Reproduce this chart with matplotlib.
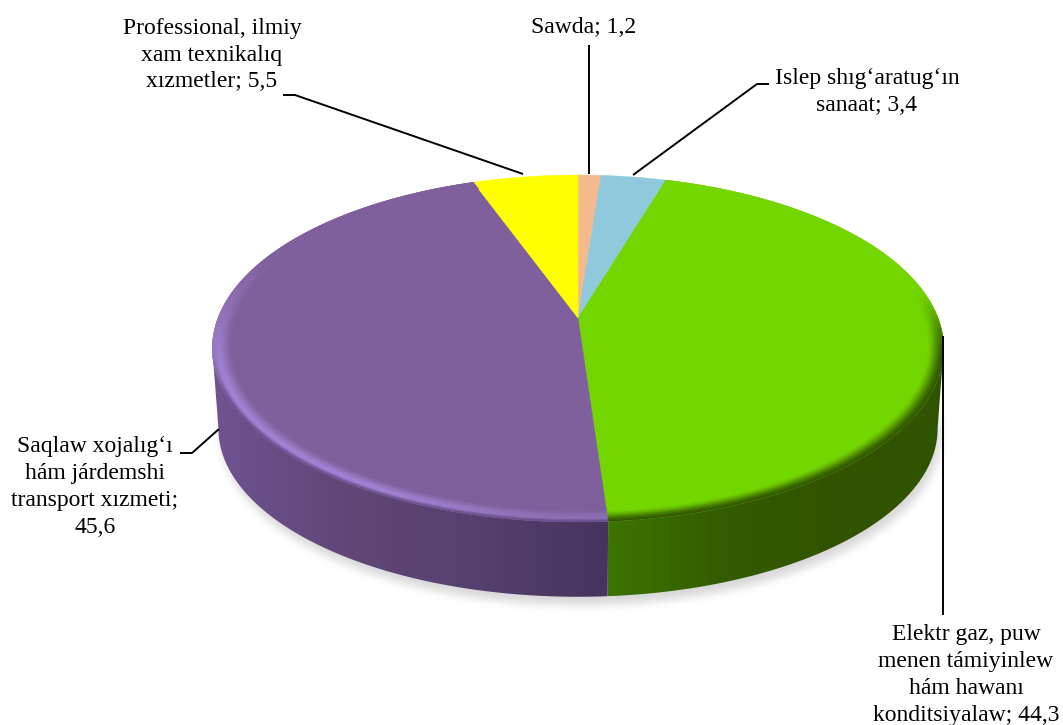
import numpy as np
import matplotlib
matplotlib.use("Agg")
import matplotlib.pyplot as plt
from matplotlib.path import Path
from matplotlib.patches import Polygon
from matplotlib.collections import PolyCollection

# ---- data ----
labels = ["Sawda; 1,2",
          "Islep shıg‘aratug‘ın\nsanaat; 3,4",
          "Elektr gaz, puw\nmenen támiyinlew\nhám hawanı\nkonditsiyalaw; 44,3",
          "Saqlaw xojalıg‘ı\nhám járdemshi\ntransport xızmeti;\n45,6",
          "Professional, ilmiy\nxam texnikalıq\nxızmetler; 5,5"]
values = [1.2, 3.4, 44.3, 45.6, 5.5]
face_colors = ["#F5B98C", "#8FC9DB", "#74D600", "#7F609C", "#FFFF00"]

# ---- layout / style ----
W, H = 1063, 725
CX, K = 578.0, 0.1758
TOP = dict(y0=318.0, a=168.1, b=360.0)
BOT = dict(y0=399.0, a=163.0, b=354.0)
SIDE_RANGE = (100.0, 260.0)
side_grad = {2: ["#3C7400", "#345C00", "#305300", "#305300"],
             3: ["#6E5390", "#604778", "#55406F", "#46335E"]}
label_pos = [(584, 27), (867, 92), (966, 675), (95, 487), (212, 55)]
leaders = [[(589, 45), (589, 174)],
           [(633, 175), (757, 84), (769, 84)],
           [(943, 336), (943, 615)],
           [(219, 429), (192, 453), (180, 453)],
           [(523, 174), (295, 95), (283, 95)]]


def project(theta_deg, r=1.0, g=TOP):
    t = np.radians(np.asarray(theta_deg, dtype=float))
    u, v = r * np.sin(t), r * np.cos(t)
    d = 1 + K * v
    return np.column_stack([CX + g["b"] * u / d, g["y0"] - g["a"] * v / d])


def box_blur(a, n):
    kernel = np.ones(2 * n + 1) / (2 * n + 1)
    for axis in (0, 1):
        a = np.apply_along_axis(lambda s: np.convolve(s, kernel, mode="same"), axis, a)
    return a


def hexrgb(c):
    return np.array(matplotlib.colors.to_rgb(c))


def smooth(x):
    x = np.clip(x, 0, 1)
    return x * x * (3 - 2 * x)


fig = plt.figure(figsize=(W / 100, H / 100), dpi=100)
ax = fig.add_axes([0, 0, 1, 1])
ax.set_axis_off()

# shadow
ring = project(np.linspace(0, 360, 361), g=BOT) + np.array([3.0, 8.0])
xx, yy = np.meshgrid(np.arange(W) + .5, np.arange(H) + .5)
mask = Path(ring).contains_points(np.column_stack([xx.ravel(), yy.ravel()])).reshape(H, W).astype(float)
blur = box_blur(box_blur(box_blur(mask, 4), 4), 4)
shadow = np.zeros((H, W, 4))
shadow[..., 3] = 0.16 * blur
ax.imshow(shadow, extent=(0, W, H, 0), aspect="auto", zorder=1, interpolation="bilinear")

# slices
edges = np.concatenate([[0], np.cumsum(values)]) / np.sum(values) * 360

# side walls
for i, (a0, a1) in enumerate(zip(edges[:-1], edges[1:])):
    lo, hi = max(a0, SIDE_RANGE[0]), min(a1, SIDE_RANGE[1])
    if lo >= hi:
        continue
    th = np.linspace(lo, hi, 150)
    poly = np.vstack([project(th), project(th[::-1], g=BOT)])
    clip = Polygon(poly, closed=True, transform=ax.transData, fc="none", ec="none")
    ax.add_patch(clip)
    stops = np.array([hexrgb(c) for c in side_grad[i]])
    xs = np.linspace(0, 1, 256)
    img = np.column_stack([np.interp(xs, np.linspace(0, 1, len(stops)), stops[:, k]) for k in range(3)])[None, ...]
    x0, x1 = poly[:, 0].min(), poly[:, 0].max()
    y0, y1 = poly[:, 1].min(), poly[:, 1].max()
    im = ax.imshow(img, extent=(x0, x1, y1, y0), aspect="auto", zorder=2, interpolation="bilinear")
    im.set_clip_path(clip)

# top faces
for i, (a0, a1) in enumerate(zip(edges[:-1], edges[1:])):
    th = np.linspace(a0, a1, max(4, int(a1 - a0) * 3))
    pts = np.vstack([[CX, TOP["y0"]], project(th)])
    ax.add_patch(Polygon(pts, closed=True, fc=face_colors[i], ec=face_colors[i], lw=0.3, zorder=3))

# bevel on the rim of the two large slices
quads, cols = [], []
shells = np.linspace(0.94, 1.0, 13)
green, purple = hexrgb(face_colors[2]), hexrgb(face_colors[3])
dark_green, light_purple, dark_purple = hexrgb("#305400"), hexrgb("#A285D6"), hexrgb("#5F4880")
for i in (2, 3):
    a0, a1 = edges[i], edges[i + 1]
    th = np.linspace(a0, a1, int((a1 - a0) * 1.5) + 2)
    for r0, r1 in zip(shells[:-1], shells[1:]):
        rm = (r0 + r1) / 2
        for t0, t1 in zip(th[:-1], th[1:]):
            tm = np.radians((t0 + t1) / 2)
            vv = np.cos(tm)
            if i == 2:
                w = smooth((rm - 0.955) / 0.045) * smooth((0.2 - vv) / 0.45)
                c = green + w * (dark_green - green)
            else:
                w = smooth((0.55 - vv) / 1.0) * (0.4 + 0.6 * smooth((np.degrees(tm) - a0) / 35))
                rad = smooth((rm - 0.945) / 0.04)
                c = purple + w * rad * (light_purple - purple)
                dk = smooth((rm - 0.985) / 0.015) * smooth((-0.1 - vv) / 0.4) * 0.85
                c = c + dk * (dark_purple - c)
            quads.append(np.vstack([project([t0, t1], r0), project([t1, t0], r1)]))
            cols.append(c)
ax.add_collection(PolyCollection(quads, facecolors=cols, edgecolors=cols, linewidths=0.3, zorder=4))

# leaders and labels
for line in leaders:
    p = np.array(line)
    ax.plot(p[:, 0], p[:, 1], color="black", lw=1.4, zorder=5, solid_capstyle="butt")
for text, (x, y) in zip(labels, label_pos):
    ax.text(x, y, text, ha="center", va="center", fontsize=17, linespacing=1.37,
            family="Liberation Serif", color="black", zorder=6)

ax.set_xlim(0, W)
ax.set_ylim(H, 0)
fig.savefig("out.png", dpi=100, facecolor="white")
